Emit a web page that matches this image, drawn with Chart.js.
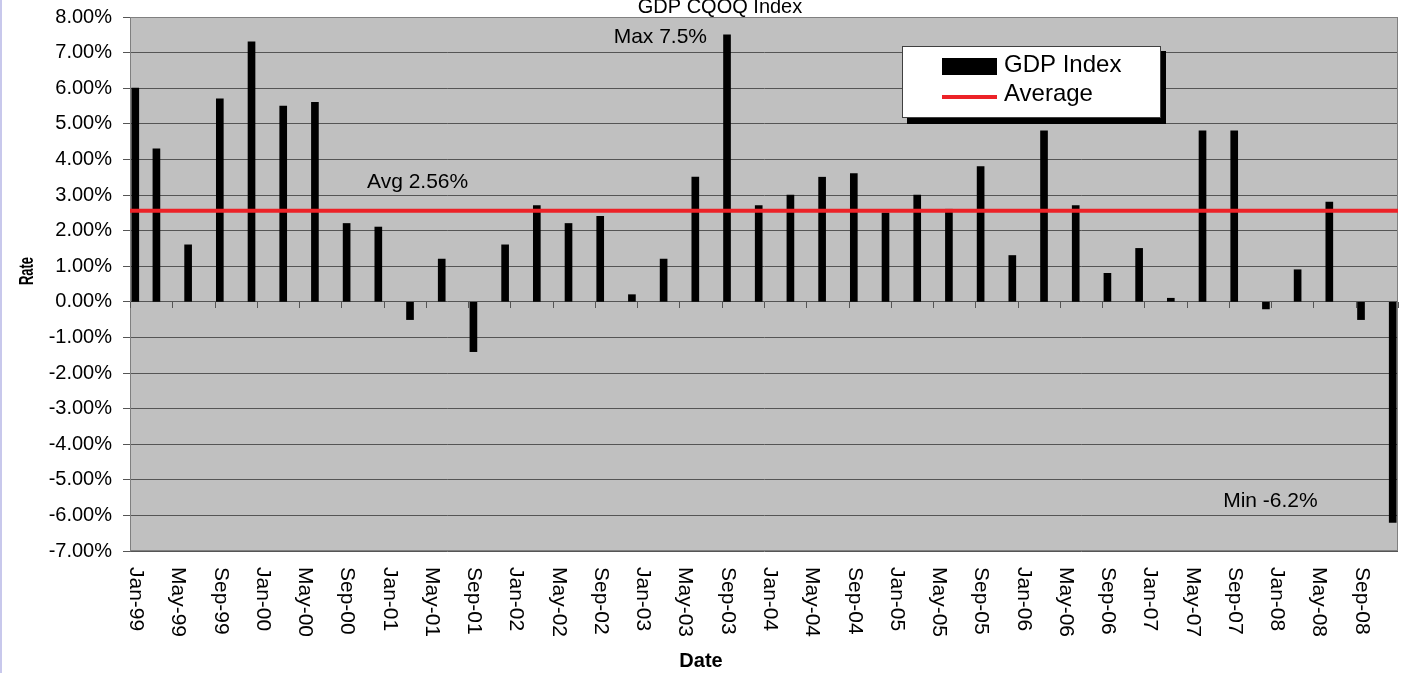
<!DOCTYPE html>
<html>
<head>
<meta charset="utf-8">
<title>GDP CQOQ Index</title>
<script src="https://cdn.jsdelivr.net/npm/chart.js@4.4.1/dist/chart.umd.min.js"></script>
<style>
  html, body { margin: 0; padding: 0; background: #fff; height: 100%; }
  body { box-shadow: inset 2px 0 0 #c8c8ec; }
  #wrap { position: absolute; left: 0; top: 0; width: 1403px; height: 673px; }
</style>
</head>
<body>
<div id="wrap"><canvas id="gdpChart" width="1403" height="673"></canvas></div>
<script>
// quarterly observations (first point is Jan-99)
const quarters = [
  'Jan-99', 'Mar-99', 'Jun-99', 'Sep-99', 'Dec-99',
  'Mar-00', 'Jun-00', 'Sep-00', 'Dec-00',
  'Mar-01', 'Jun-01', 'Sep-01', 'Dec-01',
  'Mar-02', 'Jun-02', 'Sep-02', 'Dec-02',
  'Mar-03', 'Jun-03', 'Sep-03', 'Dec-03',
  'Mar-04', 'Jun-04', 'Sep-04', 'Dec-04',
  'Mar-05', 'Jun-05', 'Sep-05', 'Dec-05',
  'Mar-06', 'Jun-06', 'Sep-06', 'Dec-06',
  'Mar-07', 'Jun-07', 'Sep-07', 'Dec-07',
  'Mar-08', 'Jun-08', 'Sep-08', 'Dec-08'
];
const gdpValues = [
  6.0, 4.3, 1.6, 5.7, 7.3,
  5.5, 5.6, 2.2, 2.1,
  -0.5, 1.2, -1.4, 1.6,
  2.7, 2.2, 2.4, 0.2,
  1.2, 3.5, 7.5, 2.7,
  3.0, 3.5, 3.6, 2.5,
  3.0, 2.6, 3.8, 1.3,
  4.8, 2.7, 0.8, 1.5,
  0.1, 4.8, 4.8, -0.2,
  0.9, 2.8, -0.5, -6.2
];
const avgValue = 2.56;

const xTickLabels = [
  'Jan-99', 'May-99', 'Sep-99', 'Jan-00', 'May-00', 'Sep-00',
  'Jan-01', 'May-01', 'Sep-01', 'Jan-02', 'May-02', 'Sep-02',
  'Jan-03', 'May-03', 'Sep-03', 'Jan-04', 'May-04', 'Sep-04',
  'Jan-05', 'May-05', 'Sep-05', 'Jan-06', 'May-06', 'Sep-06',
  'Jan-07', 'May-07', 'Sep-07', 'Jan-08', 'May-08', 'Sep-08'
];

const monthNames = ['Jan', 'Feb', 'Mar', 'Apr', 'May', 'Jun', 'Jul', 'Aug', 'Sep', 'Oct', 'Nov', 'Dec'];
const FONT = "'Liberation Sans', Arial, sans-serif";

// months since Jan-99
function monthIndex(lbl) {
  const [m, yy] = lbl.split('-');
  const year = parseInt(yy, 10) > 50 ? 1900 + parseInt(yy, 10) : 2000 + parseInt(yy, 10);
  return (year - 1999) * 12 + monthNames.indexOf(m);
}

Chart.defaults.font.family = FONT;

const plotFrame = {
  id: 'plotFrame',
  beforeDraw(chart) {
    const { ctx, chartArea: a } = chart;
    ctx.save();
    ctx.fillStyle = '#c0c0c0';
    ctx.fillRect(a.left, a.top, a.right - a.left, a.bottom - a.top);
    ctx.restore();
  },
  beforeDatasetsDraw(chart) {
    const { ctx, chartArea: a, scales: { x, y } } = chart;
    ctx.save();
    ctx.strokeStyle = '#808080';
    ctx.lineWidth = 1;
    ctx.strokeRect(a.left + 0.5, a.top + 0.5, a.right - a.left - 1, a.bottom - a.top - 1);
    // small tick marks hanging off the zero line
    const y0 = Math.round(y.getPixelForValue(0));
    ctx.strokeStyle = '#555';
    ctx.beginPath();
    x.ticks.forEach(t => {
      const px = Math.round(x.getPixelForValue(t.value)) + 0.5;
      ctx.moveTo(px, y0);
      ctx.lineTo(px, y0 + 6);
    });
    ctx.stroke();
    ctx.restore();
  }
};

const overlays = {
  id: 'overlays',
  afterDraw(chart) {
    const { ctx, chartArea: a, scales: { x, y } } = chart;
    ctx.save();
    ctx.fillStyle = '#000';

    // x tick labels, turned clockwise
    ctx.font = '21px ' + FONT;
    ctx.textAlign = 'left';
    ctx.textBaseline = 'alphabetic';
    x.ticks.forEach((t, i) => {
      if (i >= xTickLabels.length) return;
      const px = x.getPixelForValue(t.value);
      ctx.save();
      ctx.translate(px, a.bottom + 16);
      ctx.rotate(Math.PI / 2);
      ctx.fillText(xTickLabels[i], 0, 0);
      ctx.restore();
    });

    // chart title (clipped at the top like the original)
    ctx.textAlign = 'center';
    ctx.font = '20px ' + FONT;
    ctx.fillText('GDP CQOQ Index', 720, 13);

    // axis titles
    ctx.font = 'bold 20px ' + FONT;
    ctx.fillText('Date', 701, 667);
    ctx.save();
    ctx.translate(33, 271);
    ctx.rotate(-Math.PI / 2);
    ctx.scale(0.65, 1);
    ctx.fillText('Rate', 0, 0);
    ctx.restore();

    // max / avg / min notes
    ctx.font = '21px ' + FONT;
    const maxV = Math.max(...gdpValues);
    const minV = Math.min(...gdpValues);
    const maxX = x.getPixelForValue(monthIndex(quarters[gdpValues.indexOf(maxV)]) + 0.5);
    const minX = x.getPixelForValue(monthIndex(quarters[gdpValues.indexOf(minV)]) + 0.5);
    ctx.textAlign = 'right';
    ctx.fillText('Max ' + maxV.toFixed(1) + '%', maxX - 20, y.getPixelForValue(maxV) + 8);
    ctx.fillText('Min ' + minV.toFixed(1) + '%', minX - 75, y.getPixelForValue(minV) - 16);
    ctx.textAlign = 'left';
    ctx.fillText('Avg ' + avgValue.toFixed(2) + '%', a.left + 237, y.getPixelForValue(avgValue) - 23);

    // legend box with drop shadow
    const bx = 902, by = 46, bw = 259, bh = 72;
    ctx.fillStyle = '#000';
    ctx.fillRect(bx + 5, by + 5, bw, bh + 1);
    ctx.fillStyle = '#fff';
    ctx.fillRect(bx, by, bw, bh);
    ctx.strokeStyle = '#404040';
    ctx.lineWidth = 1;
    ctx.strokeRect(bx + 0.5, by + 0.5, bw - 1, bh - 1);

    const bars = chart.data.datasets.find(d => d.type === 'bar');
    const avg = chart.data.datasets.find(d => d.type === 'line');
    ctx.fillStyle = bars.backgroundColor;
    ctx.fillRect(bx + 40, by + 12, 55, 17);
    ctx.strokeStyle = avg.borderColor;
    ctx.lineWidth = 4;
    ctx.beginPath();
    ctx.moveTo(bx + 40, by + 51);
    ctx.lineTo(bx + 95, by + 51);
    ctx.stroke();

    ctx.fillStyle = '#000';
    ctx.font = '24px ' + FONT;
    ctx.textAlign = 'left';
    ctx.fillText(bars.label, bx + 102, by + 26);
    ctx.fillText(avg.label, bx + 102, by + 55);

    ctx.restore();
  }
};

new Chart(document.getElementById('gdpChart').getContext('2d'), {
  type: 'bar',
  data: {
    datasets: [
      {
        type: 'line',
        label: 'Average',
        data: [{ x: 0, y: avgValue }, { x: 120, y: avgValue }],
        borderColor: '#ec2227',
        borderWidth: 4,
        pointRadius: 0,
        order: 0
      },
      {
        type: 'bar',
        label: 'GDP Index',
        data: quarters.map((q, i) => ({ x: monthIndex(q) + 0.5, y: gdpValues[i] })),
        backgroundColor: '#000',
        barThickness: 7,
        order: 1
      }
    ]
  },
  options: {
    responsive: false,
    animation: false,
    layout: { padding: { top: 17, right: 5, left: 0, bottom: 0 } },
    plugins: {
      legend: { display: false },
      tooltip: { enabled: false },
      title: { display: false }
    },
    scales: {
      x: {
        type: 'linear',
        min: 0,
        max: 120,
        offset: false,
        grid: { display: false },
        border: { display: false },
        ticks: { display: false, stepSize: 4, autoSkip: false, maxTicksLimit: 100 },
        afterFit(s) { s.height = 122; s.paddingLeft = 0; s.paddingRight = 0; }
      },
      y: {
        min: -7,
        max: 8,
        grid: { color: '#555', tickLength: 7 },
        border: { color: '#666' },
        ticks: {
          stepSize: 1,
          padding: 11,
          color: '#000',
          font: { size: 20 },
          callback: v => v.toFixed(2) + '%'
        },
        afterFit(s) { s.width = 130; s.paddingTop = 0; s.paddingBottom = 0; }
      }
    }
  },
  plugins: [plotFrame, overlays]
});
</script>
</body>
</html>
